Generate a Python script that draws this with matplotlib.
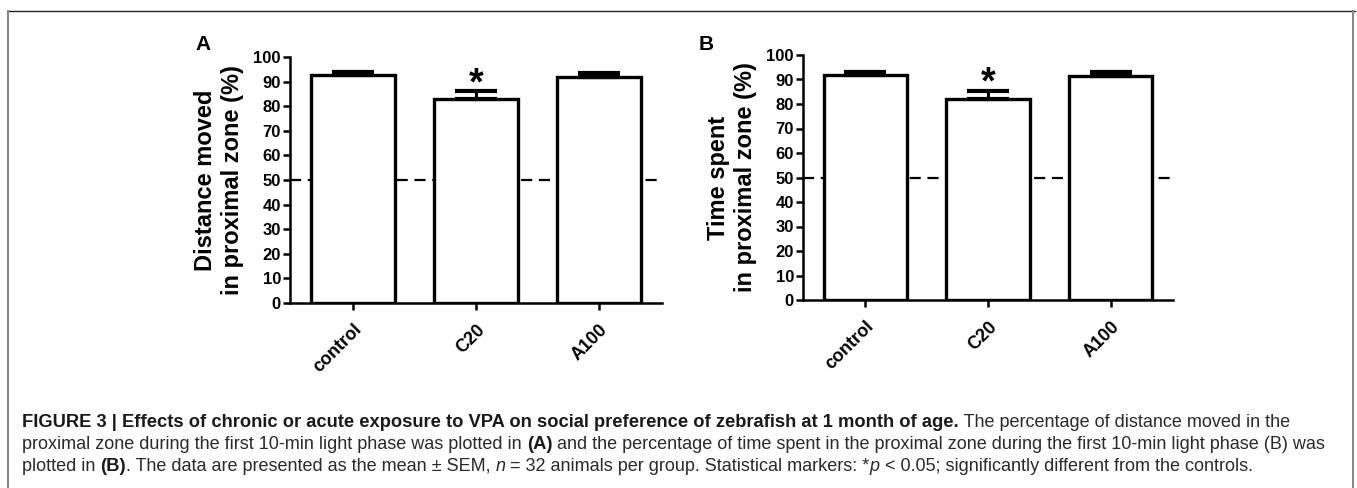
import matplotlib
matplotlib.use("Agg")
import matplotlib.pyplot as plt
from matplotlib.lines import Line2D

plt.rcParams['font.family'] = ['Liberation Sans', 'DejaVu Sans']

categories = ["control", "C20", "A100"]
dist_mean = [92.7, 82.8, 92.0]
dist_sem = [1.3, 3.2, 1.6]
time_mean = [91.7, 81.9, 91.4]
time_sem = [1.5, 3.5, 1.8]
sig = [False, True, False]
chance_level = 50
yticks = list(range(0, 101, 10))

W, H = 1357, 488
fig = plt.figure(figsize=(W / 100, H / 100), dpi=100)

def px_axes(x0, x1, y_top, y_bot):
    return fig.add_axes([x0 / W, (H - y_bot) / H, (x1 - x0) / W, (y_bot - y_top) / H])

axA = px_axes(290, 662, 57, 303)
axB = px_axes(803, 1173, 55, 300)

def draw_panel(ax, means, sems, ylabel, letter, letter_xy):
    xs = list(range(len(categories)))
    ax.axhline(chance_level, color='black', lw=1.6, ls=(0, (5, 3)), zorder=0)
    ax.bar(xs, means, width=0.68, color='white', edgecolor='black', linewidth=2.4, zorder=2)
    ax.errorbar(xs, means, yerr=[[0] * len(sems), sems], fmt='none', ecolor='black',
                elinewidth=2.2, capsize=15, capthick=3, zorder=3)
    for x, m, s, flag in zip(xs, means, sems, sig):
        if flag:
            ax.text(x, m + s - 4.3, "*", ha='center', va='bottom', fontsize=27,
                    fontweight='bold', zorder=4)
    ax.set_xlim(-0.51, 2.51)
    ax.set_ylim(0, 100)
    ax.set_yticks(yticks)
    ax.set_xticks(xs)
    ax.set_xticklabels(categories, rotation=45, ha='right', rotation_mode='anchor',
                       fontsize=13, fontweight='bold')
    for lab in ax.get_yticklabels():
        lab.set_fontweight('bold')
        lab.set_fontsize(12)
    ax.spines['top'].set_visible(False)
    ax.spines['right'].set_visible(False)
    for sp in ('left', 'bottom'):
        ax.spines[sp].set_linewidth(1.8)
    ax.tick_params(axis='y', direction='out', length=5, width=1.8, pad=1.5)
    ax.tick_params(axis='x', direction='out', length=5, width=1.8, pad=8)
    ax.set_ylabel(ylabel, fontsize=17, fontweight='bold', labelpad=7, linespacing=1.2)
    fig.text(letter_xy[0] / W, 1 - letter_xy[1] / H, letter, fontsize=15,
             fontweight='bold', ha='center', va='center')

draw_panel(axA, dist_mean, dist_sem, "Distance moved\nin proximal zone (%)", "A", (203, 45))
draw_panel(axB, time_mean, time_sem, "Time spent\nin proximal zone (%)", "B", (706, 44))

# frame of the figure panel
fig.add_artist(Line2D([8 / W, 1355 / W], [1 - 11 / H, 1 - 11 / H], color='#222222', lw=1.0))
fig.add_artist(Line2D([8 / W, 8 / W], [0, 1 - 11 / H], color='#888888', lw=1.5))
fig.add_artist(Line2D([1353 / W, 1353 / W], [0, 1 - 11 / H], color='#888888', lw=1.5))

# caption with mixed styles
renderer = fig.canvas.get_renderer()
cap_color = '#2a2a2a'
bold_color = '#1a1a1a'
reg_size = 12.95
bold_size = 13.2

def runs_line(y_px, runs, x_px=22):
    x = x_px
    for txt, style in runs:
        kw = dict(fontsize=reg_size, color=cap_color, va='baseline', ha='left')
        if 'b' in style:
            kw['fontweight'] = 'bold'
            kw['fontsize'] = bold_size
            kw['color'] = bold_color
        if 'i' in style:
            kw['fontstyle'] = 'italic'
        t = fig.text(x / W, 1 - y_px / H, txt, **kw)
        bb = t.get_window_extent(renderer)
        x += bb.width

runs_line(427, [("FIGURE 3 | Effects of chronic or acute exposure to VPA on social preference of zebrafish at 1 month of age.", 'b'),
                (" The percentage of distance moved in the", '')])
runs_line(449, [("proximal zone during the first 10-min light phase was plotted in ", ''),
                ("(A)", 'b'),
                (" and the percentage of time spent in the proximal zone during the first 10-min light phase (B) was", '')])
runs_line(471, [("plotted in ", ''), ("(B)", 'b'),
                (". The data are presented as the mean \u00b1 SEM, ", ''), ("n", 'i'),
                (" = 32 animals per group. Statistical markers: *", ''), ("p", 'i'),
                (" < 0.05; significantly different from the controls.", '')])

fig.savefig("out.png", dpi=100)
